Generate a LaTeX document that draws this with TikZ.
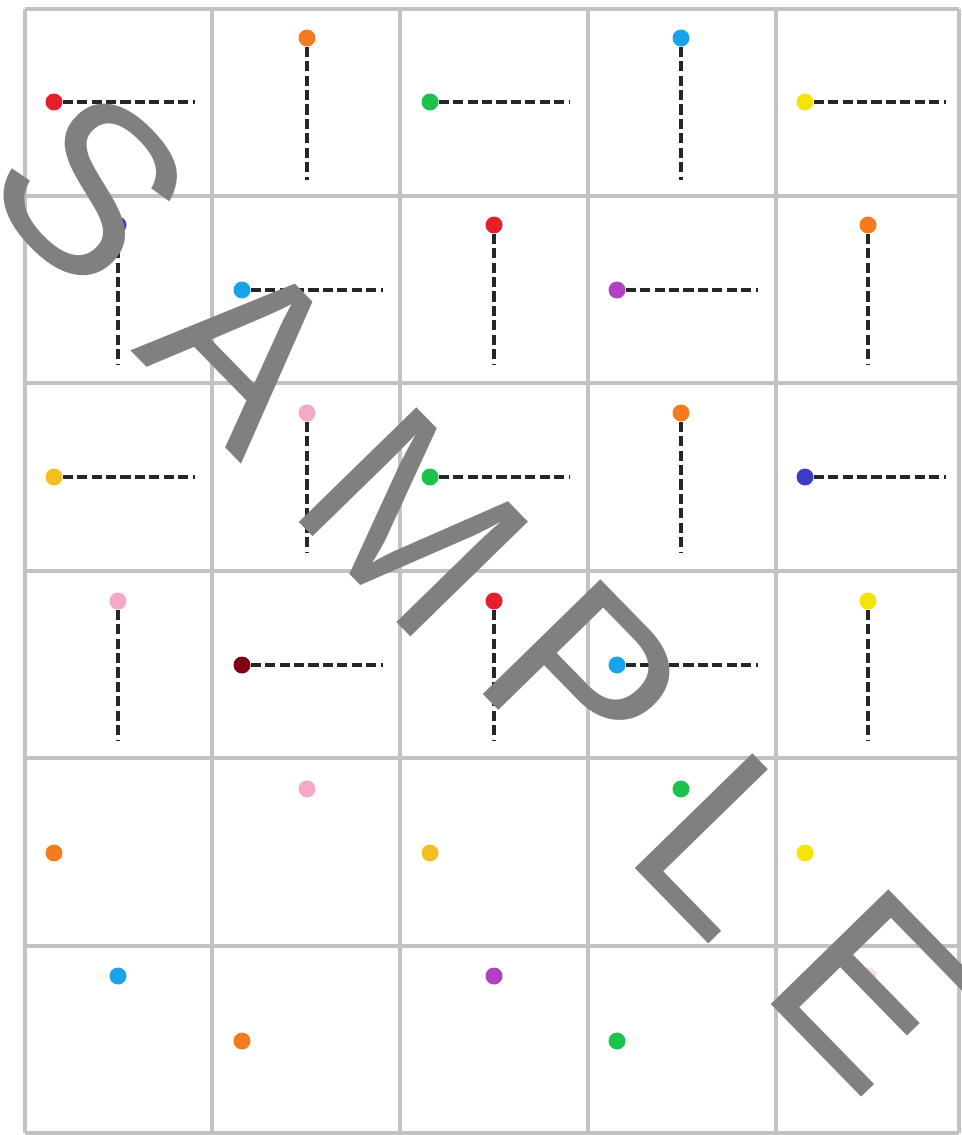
\documentclass[tikz,border=0pt]{standalone}
\usepackage{fontspec}
\usepackage{xcolor}
\usepackage{tikz}
\newfontfamily\stampfont{Liberation Sans}
\definecolor{gridline}{HTML}{C2C2C2}
\definecolor{stamp}{HTML}{808080}
\definecolor{beadred}{HTML}{E3202C}
\definecolor{beadorange}{HTML}{F47B20}
\definecolor{beadgreen}{HTML}{1DC24C}
\definecolor{beadsky}{HTML}{18A4EA}
\definecolor{beadyellow}{HTML}{F6E400}
\definecolor{beadindigo}{HTML}{3C3CC8}
\definecolor{beadpurple}{HTML}{B23FC4}
\definecolor{beadamber}{HTML}{F2BE22}
\definecolor{beadpink}{HTML}{F6A9C6}
\definecolor{beadmaroon}{HTML}{7E0014}

\begin{document}
\begin{tikzpicture}[x=0.02cm,y=-0.02cm,
    bead/.style={circle,inner sep=0pt,minimum size=0.34cm,fill=#1},
    trail/.style={line width=2.1pt,dash pattern=on 5.8pt off 2.4pt,draw=black!85},
    cellrule/.style={draw=gridline,line width=2.4pt},
    stampletter/.style={text=stamp,inner sep=0pt,rotate=-45.7,
      font=\stampfont\fontsize{136}{136}\selectfont}]
    \useasboundingbox (0,0) rectangle (961,1135);

    % grid
    \draw[cellrule] (25,9) -- (959,9) (25,196) -- (959,196) (25,383) -- (959,383)
      (25,571) -- (959,571) (25,758) -- (959,758) (25,946) -- (959,946) (25,1133) -- (959,1133);
    \draw[cellrule] (25,9) -- (25,1133) (212,9) -- (212,1133) (400,9) -- (400,1133)
      (588,9) -- (588,1133) (776,9) -- (776,1133) (959,9) -- (959,1133);

    % row 1
    \node[bead=beadred] (b11) at (54,102) {};
    \coordinate (e11) at (195,102);
    \draw[trail] (b11) -- (e11);
    \node[bead=beadorange] (b12) at (307,38) {};
    \coordinate (e12) at (307,180);
    \draw[trail] (b12) -- (e12);
    \node[bead=beadgreen] (b13) at (430,102) {};
    \coordinate (e13) at (570,102);
    \draw[trail] (b13) -- (e13);
    \node[bead=beadsky] (b14) at (681,38) {};
    \coordinate (e14) at (681,180);
    \draw[trail] (b14) -- (e14);
    \node[bead=beadyellow] (b15) at (805,102) {};
    \coordinate (e15) at (946,102);
    \draw[trail] (b15) -- (e15);

    % row 2
    \node[bead=beadindigo] (b21) at (118,225) {};
    \coordinate (e21) at (118,365);
    \draw[trail] (b21) -- (e21);
    \node[bead=beadsky] (b22) at (242,290) {};
    \coordinate (e22) at (383,290);
    \draw[trail] (b22) -- (e22);
    \node[bead=beadred] (b23) at (494,225) {};
    \coordinate (e23) at (494,365);
    \draw[trail] (b23) -- (e23);
    \node[bead=beadpurple] (b24) at (617,290) {};
    \coordinate (e24) at (758,290);
    \draw[trail] (b24) -- (e24);
    \node[bead=beadorange] (b25) at (868,225) {};
    \coordinate (e25) at (868,365);
    \draw[trail] (b25) -- (e25);

    % row 3
    \node[bead=beadamber] (b31) at (54,477) {};
    \coordinate (e31) at (195,477);
    \draw[trail] (b31) -- (e31);
    \node[bead=beadpink] (b32) at (307,413) {};
    \coordinate (e32) at (307,553);
    \draw[trail] (b32) -- (e32);
    \node[bead=beadgreen] (b33) at (430,477) {};
    \coordinate (e33) at (570,477);
    \draw[trail] (b33) -- (e33);
    \node[bead=beadorange] (b34) at (681,413) {};
    \coordinate (e34) at (681,553);
    \draw[trail] (b34) -- (e34);
    \node[bead=beadindigo] (b35) at (805,477) {};
    \coordinate (e35) at (946,477);
    \draw[trail] (b35) -- (e35);

    % row 4
    \node[bead=beadpink] (b41) at (118,601) {};
    \coordinate (e41) at (118,741);
    \draw[trail] (b41) -- (e41);
    \node[bead=beadmaroon] (b42) at (242,665) {};
    \coordinate (e42) at (383,665);
    \draw[trail] (b42) -- (e42);
    \node[bead=beadred] (b43) at (494,601) {};
    \coordinate (e43) at (494,741);
    \draw[trail] (b43) -- (e43);
    \node[bead=beadsky] (b44) at (617,665) {};
    \coordinate (e44) at (758,665);
    \draw[trail] (b44) -- (e44);
    \node[bead=beadyellow] (b45) at (868,601) {};
    \coordinate (e45) at (868,741);
    \draw[trail] (b45) -- (e45);

    % rows 5 and 6, no trails
    \node[bead=beadorange] (b51) at (54,853) {};
    \node[bead=beadpink] (b52) at (307,789) {};
    \node[bead=beadamber] (b53) at (430,853) {};
    \node[bead=beadgreen] (b54) at (681,789) {};
    \node[bead=beadyellow] (b55) at (805,853) {};
    \node[bead=beadsky] (b61) at (118,976) {};
    \node[bead=beadorange] (b62) at (242,1041) {};
    \node[bead=beadpurple] (b63) at (494,976) {};
    \node[bead=beadgreen] (b64) at (617,1041) {};
    \node[bead=beadpink!40] (b65) at (868,976) {};

    % watermark
    \node[stampletter] (wS) at (91,188) {S};
    \node[stampletter] (wA) at (245,350) {A};
    \node[stampletter] (wM) at (414,522) {M};
    \node[stampletter] (wP) at (584,680) {P};
    \node[stampletter] (wL) at (727,845) {L};
    \node[stampletter] (wE) at (872,990) {E};
\end{tikzpicture}
\end{document}
